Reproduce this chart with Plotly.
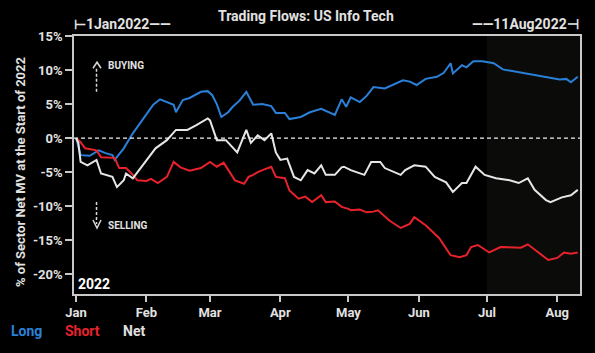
import plotly.graph_objects as go

# ---------------- data ----------------
long_dates = ["2022-01-01","2022-01-03","2022-01-07","2022-01-11","2022-01-14","2022-01-17","2022-01-18",
              "2022-01-22","2022-01-26","2022-01-31","2022-02-04","2022-02-07","2022-02-10","2022-02-13",
              "2022-02-14","2022-02-17","2022-02-20","2022-02-25","2022-02-28","2022-03-02","2022-03-04",
              "2022-03-06","2022-03-09","2022-03-11","2022-03-14","2022-03-17","2022-03-20","2022-03-24",
              "2022-03-28","2022-03-30","2022-04-03","2022-04-05","2022-04-10","2022-04-14","2022-04-19",
              "2022-04-21","2022-04-25","2022-04-28","2022-04-30","2022-05-02","2022-05-06","2022-05-09",
              "2022-05-12","2022-05-17","2022-05-21","2022-05-25","2022-05-28","2022-05-31","2022-06-04",
              "2022-06-09","2022-06-12","2022-06-15","2022-06-16","2022-06-20","2022-06-22","2022-06-25",
              "2022-06-29","2022-07-04","2022-07-08","2022-07-13","2022-07-18","2022-07-23","2022-07-27",
              "2022-07-30","2022-08-02","2022-08-05","2022-08-07","2022-08-10"]
long_vals = [0.0,-2.5,-2.6,-1.8,-2.2,-2.5,-3.2,
             -1.5,0.7,3.0,4.9,5.7,5.3,4.9,
             3.8,5.6,5.9,6.8,6.9,6.3,5.0,
             3.1,3.8,4.6,5.5,6.8,4.9,5.0,
             4.7,3.7,3.7,2.8,3.1,3.8,4.3,
             4.0,3.4,5.7,4.6,6.0,5.3,6.2,
             7.5,7.3,7.9,8.5,8.3,7.8,8.7,
             9.0,9.6,11.0,9.5,10.7,10.4,11.3,
             11.3,11.0,10.1,9.8,9.6,9.2,9.0,
             8.8,8.6,8.7,8.2,9.0]

short_dates = ["2022-01-01","2022-01-03","2022-01-05","2022-01-10","2022-01-12","2022-01-18","2022-01-20",
               "2022-01-23","2022-01-26","2022-01-28","2022-02-01","2022-02-03","2022-02-06","2022-02-10",
               "2022-02-13","2022-02-16","2022-02-20","2022-02-25","2022-03-01","2022-03-04","2022-03-07",
               "2022-03-12","2022-03-16","2022-03-18","2022-03-20","2022-03-22","2022-03-25","2022-03-28",
               "2022-03-30","2022-04-03","2022-04-05","2022-04-09","2022-04-12","2022-04-15","2022-04-19",
               "2022-04-21","2022-04-25","2022-04-28","2022-05-01","2022-05-02","2022-05-06","2022-05-09",
               "2022-05-12","2022-05-14","2022-05-19","2022-05-24","2022-05-28","2022-05-30","2022-06-04",
               "2022-06-10","2022-06-15","2022-06-19","2022-06-22","2022-06-24","2022-06-27","2022-07-02",
               "2022-07-07","2022-07-12","2022-07-16","2022-07-19","2022-07-24","2022-07-28","2022-08-01",
               "2022-08-04","2022-08-07","2022-08-10"]
short_vals = [0.0,-0.6,-1.5,-1.8,-2.8,-2.9,-4.4,
              -4.4,-5.4,-6.2,-6.3,-6.0,-6.6,-5.7,
              -3.5,-4.3,-4.8,-4.4,-3.5,-4.2,-3.6,
              -6.2,-6.7,-5.7,-5.4,-5.0,-4.6,-4.2,
              -5.7,-5.9,-7.7,-8.9,-8.6,-9.4,-8.4,
              -9.4,-9.3,-10.1,-10.4,-10.6,-10.5,-10.9,
              -10.8,-10.6,-12.1,-13.2,-12.6,-11.6,-12.8,
              -14.7,-17.2,-17.5,-17.2,-16.0,-15.7,-16.8,
              -16.0,-16.0,-16.1,-15.6,-16.9,-17.9,-17.6,
              -16.8,-17.0,-16.8]

net_dates = ["2022-01-01","2022-01-02","2022-01-03","2022-01-06","2022-01-10","2022-01-12","2022-01-17",
             "2022-01-19","2022-01-22","2022-01-23","2022-01-26","2022-01-31","2022-02-05","2022-02-10",
             "2022-02-14","2022-02-19","2022-02-23","2022-02-28","2022-03-01","2022-03-04","2022-03-08",
             "2022-03-13","2022-03-17","2022-03-19","2022-03-22","2022-03-25","2022-03-28","2022-03-30",
             "2022-04-01","2022-04-04","2022-04-07","2022-04-10","2022-04-13","2022-04-16","2022-04-19",
             "2022-04-21","2022-04-25","2022-04-28","2022-04-29","2022-05-02","2022-05-08","2022-05-11",
             "2022-05-15","2022-05-17","2022-05-24","2022-05-26","2022-05-30","2022-06-04","2022-06-08",
             "2022-06-13","2022-06-16","2022-06-20","2022-06-22","2022-06-26","2022-06-30","2022-07-05",
             "2022-07-11","2022-07-15","2022-07-19","2022-07-22","2022-07-27","2022-07-29","2022-08-03",
             "2022-08-07","2022-08-10"]
net_vals = [0.0,-0.7,-3.5,-4.0,-3.2,-5.2,-5.7,
            -7.2,-6.2,-5.2,-5.9,-3.7,-1.5,-0.3,
            1.2,1.2,1.9,2.9,2.6,-0.3,-0.3,
            -2.1,1.2,-0.7,0.4,-0.3,0.7,-2.1,
            -3.2,-3.0,-5.7,-6.2,-4.7,-5.2,-4.0,
            -5.4,-5.4,-4.3,-4.2,-4.7,-5.4,-3.5,
            -3.5,-4.4,-5.4,-4.7,-4.0,-4.2,-5.7,
            -6.5,-7.9,-6.6,-6.6,-4.2,-5.4,-5.9,
            -6.2,-6.6,-5.9,-7.6,-9.1,-9.4,-8.7,
            -8.4,-7.6]

month_ticks = ["2022-01-01","2022-02-01","2022-03-01","2022-04-01","2022-05-01","2022-06-01","2022-07-01","2022-08-01"]
month_labels = ["Jan","Feb","Mar","Apr","May","Jun","Jul","Aug"]
y_ticks = [-20, -15, -10, -5, 0, 5, 10, 15]
y_labels = ["-20%", "-15%", "-10%", "-5%", "0%", "5%", "10%", "15%"]

C_LONG = "#2a80d8"
C_SHORT = "#e8222b"
C_NET = "#e6e6e6"
TXT = "#e2e2e2"
FONT = "Roboto"

fig = go.Figure()
fig.add_trace(go.Scatter(x=long_dates, y=long_vals, mode="lines", line=dict(color=C_LONG, width=2), name="Long"))
fig.add_trace(go.Scatter(x=short_dates, y=short_vals, mode="lines", line=dict(color=C_SHORT, width=2), name="Short"))
fig.add_trace(go.Scatter(x=net_dates, y=net_vals, mode="lines", line=dict(color=C_NET, width=2), name="Net"))

# shaded recent period
fig.add_shape(type="rect", xref="x", yref="paper", x0="2022-07-01", x1="2022-08-11", y0=0, y1=1,
              fillcolor="#0b0c0a", line=dict(width=0), layer="below")
# zero line
fig.add_shape(type="line", xref="paper", yref="y", x0=0, x1=1, y0=0, y1=0,
              line=dict(color="#f0f0f0", width=1.2, dash="4px,3px"))

# buying / selling dashed arrows
arrow_line = dict(color="#d8d8d8", width=1.5)
fig.add_shape(type="line", xref="x", yref="y", x0="2022-01-10", x1="2022-01-10", y0=6.8, y1=10.2,
              line=dict(color="#d8d8d8", width=1.5, dash="3px,2px"))
fig.add_shape(type="path", xref="paper", yref="paper",
              path="M 0.0375 0.8750 L 0.0455 0.8984 L 0.0534 0.8750", line=arrow_line)
fig.add_shape(type="line", xref="x", yref="y", x0="2022-01-10", x1="2022-01-10", y0=-9.4, y1=-12.6,
              line=dict(color="#d8d8d8", width=1.5, dash="3px,2px"))
fig.add_shape(type="path", xref="paper", yref="paper",
              path="M 0.0375 0.2868 L 0.0455 0.2558 L 0.0534 0.2868", line=arrow_line)

annotations = [
    dict(text="<b>Trading Flows: US Info Tech</b>", x=306, y=16, size=14),
    dict(text="<b>⊢1Jan2022——</b>", x=122, y=24, size=14),
    dict(text="<b>——11Aug2022⊣</b>", x=525, y=24, size=14),
    dict(text="<b>BUYING</b>", x=126, y=65, size=10),
    dict(text="<b>SELLING</b>", x=128, y=225, size=10),
    dict(text="<b>2022</b>", x=94, y=284, size=14, color="#ffffff"),
    dict(text="<b>Long</b>", x=26, y=331, size=14, color=C_LONG),
    dict(text="<b>Short</b>", x=82, y=331, size=14, color=C_SHORT),
    dict(text="<b>Net</b>", x=134, y=331, size=14, color="#e0e0e0"),
]
L, R, T, B = 74, 580, 36, 294
for a in annotations:
    fig.add_annotation(
        text=a["text"], xref="paper", yref="paper",
        x=(a["x"] - L) / (R - L), y=(B - a["y"]) / (B - T),
        xanchor="center", yanchor="middle", showarrow=False,
        font=dict(family=FONT, size=a.get("size", 13), color=a.get("color", TXT)),
    )
fig.add_annotation(text="<b>% of Sector Net MV at the Start of 2022</b>", xref="paper", yref="paper",
                   x=(20 - L) / (R - L), y=(B - 172) / (B - T), textangle=-90, showarrow=False,
                   xanchor="center", yanchor="middle",
                   font=dict(family=FONT, size=13, color=TXT))

fig.update_layout(
    width=595, height=353,
    margin=dict(l=L, r=595 - R, t=T, b=353 - B),
    paper_bgcolor="#000000", plot_bgcolor="#000000",
    showlegend=False,
    font=dict(family=FONT, color=TXT),
)
fig.update_xaxes(
    range=["2021-12-31 02:00", "2022-08-11"], tickvals=month_ticks, ticktext=month_labels,
    showgrid=False, zeroline=False, showline=True, linecolor="#c8c8c8", linewidth=1.5, mirror=True,
    ticks="outside", ticklen=6, tickcolor="#c8c8c8", tickwidth=1.5,
    tickfont=dict(family=FONT, size=13, color=TXT, weight="bold"),
)
fig.update_yaxes(
    range=[-22.9, 15], tickvals=y_ticks, ticktext=y_labels,
    showgrid=False, zeroline=False, showline=True, linecolor="#c8c8c8", linewidth=1.5, mirror=True,
    ticks="outside", ticklen=7, tickcolor="#c8c8c8", tickwidth=1.5,
    tickfont=dict(family=FONT, size=13, color=TXT, weight="bold"),
)

fig.write_html("out.html")
